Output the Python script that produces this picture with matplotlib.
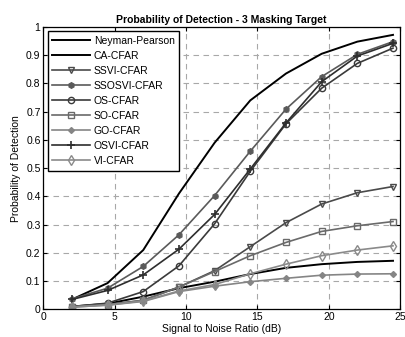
import matplotlib
matplotlib.use("Agg")
import matplotlib.pyplot as plt

plt.rcParams['font.family'] = ['Liberation Sans', 'DejaVu Sans']

snr = [2, 4.5, 7, 9.5, 12, 14.5, 17, 19.5, 22, 24.5]
neyman_pearson = [0.035, 0.093, 0.21, 0.41, 0.59, 0.74, 0.835, 0.905, 0.948, 0.972]
ca_cfar = [0.01, 0.02, 0.045, 0.075, 0.098, 0.125, 0.147, 0.16, 0.168, 0.172]
ssvi_cfar = [0.01, 0.017, 0.032, 0.079, 0.137, 0.222, 0.307, 0.373, 0.413, 0.435]
ssosvi_cfar = [0.037, 0.075, 0.152, 0.264, 0.403, 0.56, 0.709, 0.824, 0.903, 0.948]
os_cfar = [0.01, 0.022, 0.063, 0.154, 0.303, 0.489, 0.657, 0.783, 0.871, 0.925]
so_cfar = [0.01, 0.017, 0.032, 0.079, 0.134, 0.19, 0.237, 0.276, 0.296, 0.311]
go_cfar = [0.008, 0.015, 0.028, 0.063, 0.082, 0.098, 0.11, 0.121, 0.125, 0.126]
osvi_cfar = [0.035, 0.067, 0.122, 0.213, 0.336, 0.497, 0.66, 0.806, 0.897, 0.942]
vi_cfar = [0.008, 0.015, 0.03, 0.065, 0.088, 0.126, 0.16, 0.19, 0.21, 0.225]

labels = ['Neyman-Pearson', 'CA-CFAR', 'SSVI-CFAR', 'SSOSVI-CFAR', 'OS-CFAR',
          'SO-CFAR', 'GO-CFAR', 'OSVI-CFAR', 'VI-CFAR']
xticks = [0, 5, 10, 15, 20, 25]
yticks = [0, 0.1, 0.2, 0.3, 0.4, 0.5, 0.6, 0.7, 0.8, 0.9, 1]
ytick_labels = ['0', '0.1', '0.2', '0.3', '0.4', '0.5', '0.6', '0.7', '0.8', '0.9', '1']

fig = plt.figure(figsize=(4.05, 3.37), dpi=100)
ax = fig.add_axes([0.107, 0.082, 0.881, 0.838])

series = [
    (neyman_pearson, dict(color='black', lw=1.4, marker=None)),
    (ca_cfar, dict(color='black', lw=1.4, marker=None)),
    (ssvi_cfar, dict(color='#4a4a4a', lw=1.2, marker='v', mfc='none', mec='#4a4a4a', ms=4.5, mew=1.0)),
    (ssosvi_cfar, dict(color='#5a5a5a', lw=1.2, marker='h', mfc='#5a5a5a', mec='#5a5a5a', ms=4)),
    (os_cfar, dict(color='#3a3a3a', lw=1.2, marker='o', mfc='none', mec='#3a3a3a', ms=4.5, mew=1.0)),
    (so_cfar, dict(color='#6a6a6a', lw=1.2, marker='s', mfc='none', mec='#6a6a6a', ms=4.5, mew=1.0)),
    (go_cfar, dict(color='#858585', lw=1.2, marker='D', mfc='#858585', mec='#858585', ms=3)),
    (osvi_cfar, dict(color='#2e2e2e', lw=1.2, marker='+', mec='#2e2e2e', ms=6, mew=1.2)),
    (vi_cfar, dict(color='#8a8a8a', lw=1.2, marker='d', mfc='none', mec='#8a8a8a', ms=5, mew=1.0)),
]
for (vals, kw), lab in zip(series, labels):
    ax.plot(snr, vals, label=lab, **kw)

ax.set_xlim(0, 25)
ax.set_ylim(0, 1)
ax.set_xticks(xticks)
ax.set_yticks(yticks)
ax.set_yticklabels(ytick_labels)
ax.tick_params(direction='in', labelsize=7.5, length=3, width=0.8, top=True, right=True, pad=2)
ax.grid(True, linestyle=(0, (5, 4)), color='#a8a8a8', linewidth=0.8)
for s in ax.spines.values():
    s.set_linewidth(0.9)

ax.set_title('Probability of Detection - 3 Masking Target', fontsize=7.5, fontweight='bold', pad=3)
ax.set_xlabel('Signal to Noise Ratio (dB)', fontsize=7.5, labelpad=1)
ax.set_ylabel('Probability of Detection', fontsize=7.5, labelpad=4)

leg = ax.legend(loc='upper left', fontsize=7.5, handlelength=3.6, frameon=True, fancybox=False,
                borderpad=0.45, labelspacing=0.48, handletextpad=0.4, borderaxespad=0.4)
leg.get_frame().set_edgecolor('black')
leg.get_frame().set_linewidth(1.0)
leg.get_frame().set_alpha(1)

fig.savefig('out.png', dpi=100)
